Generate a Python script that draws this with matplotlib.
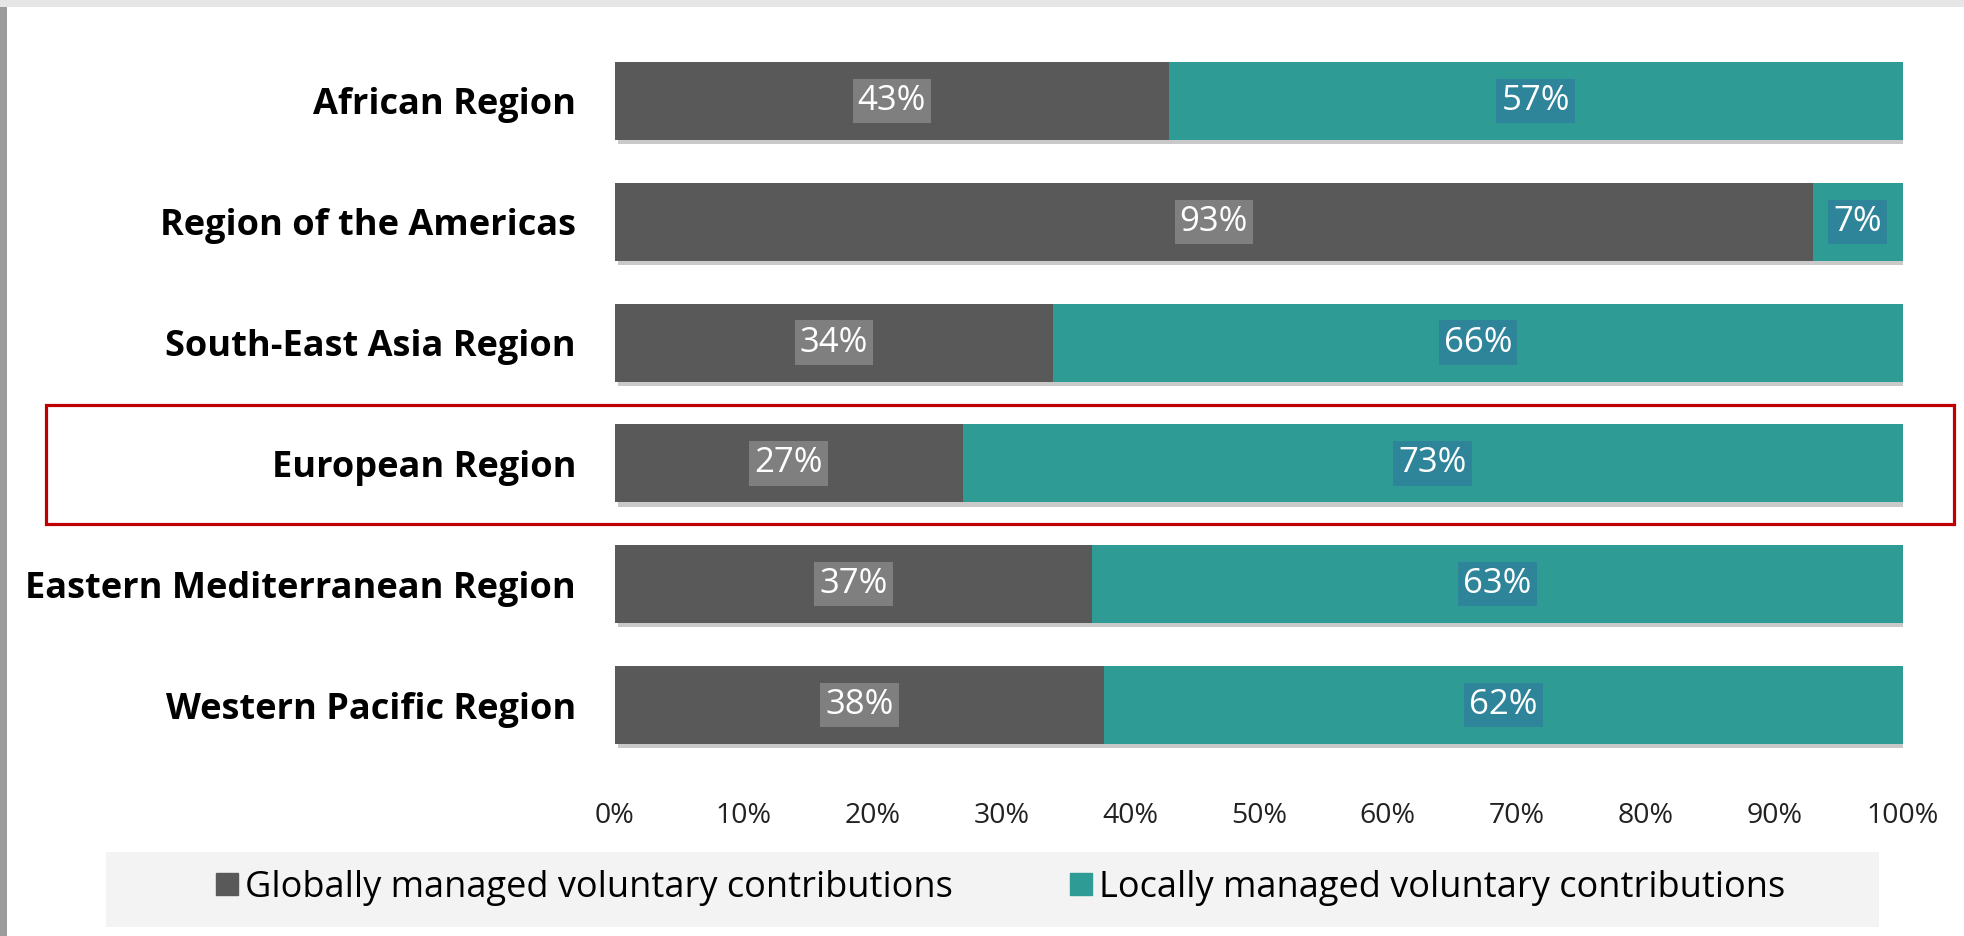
import matplotlib
matplotlib.use("Agg")
import matplotlib.pyplot as plt
import matplotlib.patheffects as pe
from matplotlib.patches import Rectangle
from matplotlib.lines import Line2D

regions = ["African Region", "Region of the Americas", "South-East Asia Region",
           "European Region", "Eastern Mediterranean Region", "Western Pacific Region"]
globally = [43, 93, 34, 27, 37, 38]
locally = [57, 7, 66, 73, 63, 62]
series_names = ["Globally managed voluntary contributions", "Locally managed voluntary contributions"]
tick_values = [0, 10, 20, 30, 40, 50, 60, 70, 80, 90, 100]

C_GLOBAL = "#595959"
C_LOCAL = "#2f9b95"
C_GLOBAL_LBL = "#7f7f7f"
C_LOCAL_LBL = "#2e8499"

plt.rcParams['font.family'] = ['Open Sans', 'DejaVu Sans']

fig = plt.figure(figsize=(19.64, 9.36), dpi=100)
fig.patch.set_facecolor("white")

W, H = 1964, 936
left, right = 615 / W, 1903 / W
top, bottom = 1 - 40.5 / H, 1 - 765.5 / H
ax = fig.add_axes([left, bottom, right - left, top - bottom])

y = list(range(len(regions)))
shadow = [pe.SimplePatchShadow(offset=(2, -3), shadow_rgbFace="#888888", alpha=0.45), pe.Normal()]
b1 = ax.barh(y, globally, height=0.645, color=C_GLOBAL, path_effects=shadow, zorder=2)
b2 = ax.barh(y, locally, left=globally, height=0.645, color=C_LOCAL, path_effects=shadow, zorder=2)

for i in y:
    g, l = globally[i], locally[i]
    ax.text(g / 2, i, f"{g}%", ha="center", va="center", color="white", fontsize=25,
            bbox=dict(boxstyle="square,pad=0.15", fc=C_GLOBAL_LBL, ec="none"), zorder=3)
    ax.text(g + l / 2, i, f"{l}%", ha="center", va="center", color="white", fontsize=25,
            bbox=dict(boxstyle="square,pad=0.15", fc=C_LOCAL_LBL, ec="none"), zorder=3)

ax.set_xlim(0, 100)
ax.set_ylim(len(regions) - 0.5, -0.5)
ax.set_yticks(y)
ax.set_yticklabels(regions, fontsize=26, fontweight="bold", color="black")
ax.set_xticks(tick_values)
ax.set_xticklabels([f"{v}%" for v in tick_values], fontsize=20.5, color="#222222")
ax.tick_params(axis="y", length=0, pad=28)
ax.tick_params(axis="x", length=0, pad=26)
for s in ax.spines.values():
    s.set_visible(False)

# legend background band
fig.add_artist(Rectangle((106 / W, 1 - 927 / H), (1879 - 106) / W, (927 - 852) / H,
                         transform=fig.transFigure, fc="#f3f3f3", ec="none", zorder=0))
handles = [Line2D([], [], marker="s", linestyle="none", markersize=16, color=C_GLOBAL),
           Line2D([], [], marker="s", linestyle="none", markersize=16, color=C_LOCAL)]
fig.legend(handles, series_names, loc="center", bbox_to_anchor=(1000 / W, 1 - 888 / H),
           ncol=2, frameon=False, fontsize=26, handletextpad=0.15, columnspacing=3.2,
           handlelength=0.7)

# red highlight rectangle
fig.add_artist(Rectangle((46 / W, 1 - 524 / H), (1954 - 46) / W, (524 - 405) / H,
                         transform=fig.transFigure, fill=False, ec="#c00000", lw=2.3, zorder=5))

# frame borders
fig.add_artist(Rectangle((0, 1 - 7 / H), 1, 7 / H, transform=fig.transFigure,
                         fc="#e6e6e6", ec="none", zorder=6))
fig.add_artist(Rectangle((0, 0), 7 / W, 1 - 7 / H, transform=fig.transFigure,
                         fc="#9c9c9c", ec="none", zorder=6))

fig.savefig("out.png", dpi=100, facecolor="white")
